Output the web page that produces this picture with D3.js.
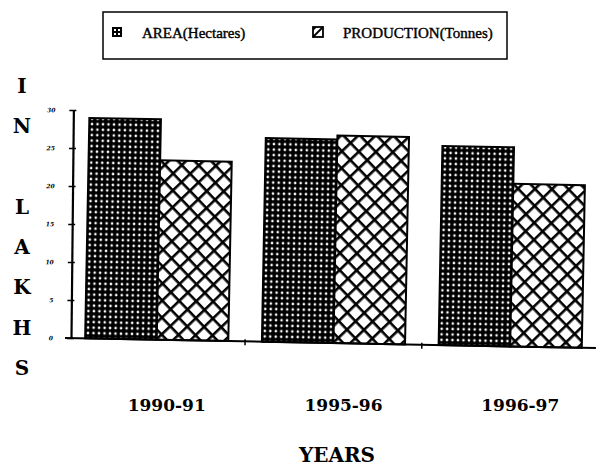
<!DOCTYPE html>
<html>
<head>
<meta charset="utf-8">
<script src="https://cdn.jsdelivr.net/npm/d3@7"></script>
<style>
  body { margin: 0; background: #fff; }
  svg { display: block; }
</style>
</head>
<body>
<div id="chart"></div>
<script>
// data
const years = ["1990-91", "1995-96", "1996-97"];
const series = ["AREA(Hectares)", "PRODUCTION(Tonnes)"];
const area = [29.0, 26.8, 26.2];
const production = [23.6, 27.3, 21.4];
const yTicks = [0, 5, 10, 15, 20, 25, 30];
const sideLetters = ["I", "N", "", "L", "A", "K", "H", "S"];

const width = 596, height = 468;
const serif = "'DejaVu Serif', serif";

const svg = d3.select("#chart").append("svg")
    .attr("width", width)
    .attr("height", height);

const defs = svg.append("defs");

// dotted fill for AREA
let dots = defs.append("pattern")
    .attr("id", "dots")
    .attr("patternUnits", "userSpaceOnUse")
    .attr("width", 5.5).attr("height", 5.5);
dots.append("rect").attr("width", 5.5).attr("height", 5.5).attr("fill", "#000");
dots.append("circle").attr("cx", 2.75).attr("cy", 2.75).attr("r", 1.3).attr("fill", "#fff");

// crosshatch for PRODUCTION
let hatch = defs.append("pattern")
    .attr("id", "hatch")
    .attr("patternUnits", "userSpaceOnUse")
    .attr("width", 12).attr("height", 12)
    .attr("patternTransform", "rotate(45)");
hatch.append("rect").attr("width", 12).attr("height", 12).attr("fill", "#fff");
hatch.append("rect").attr("width", 12).attr("height", 2.6).attr("fill", "#000");
hatch.append("rect").attr("width", 2.6).attr("height", 12).attr("fill", "#000");

const fills = ["url(#dots)", "url(#hatch)"];

// plot area (scan is slightly skewed, so the plot is tilted a little)
const origin = {x: 71, y: 338};
const plot = svg.append("g")
    .attr("transform", `rotate(1.1, ${origin.x}, ${origin.y})`);

const x0 = d3.scaleBand()
    .domain(years)
    .range([origin.x, width])
    .paddingInner(0.19)
    .paddingOuter(0.08);

const x1 = d3.scaleBand()
    .domain(series)
    .range([0, x0.bandwidth()]);

const y = d3.scaleLinear()
    .domain([0, 30])
    .range([origin.y, 110]);

const rows = years.map((yr, i) => ({year: yr, vals: [area[i], production[i]]}));

let groups = plot.selectAll("g.grp").data(rows).enter()
    .append("g").attr("class", "grp")
    .attr("transform", d => "translate(" + x0(d.year) + ",0)");

groups.selectAll("rect")
    .data(d => d.vals.map((v, k) => ({key: series[k], v: v, k: k})))
    .enter().append("rect")
    .attr("x", d => x1(d.key))
    .attr("y", d => y(d.v))
    .attr("width", x1.bandwidth())
    .attr("height", d => y(0) - y(d.v))
    .attr("fill", d => fills[d.k])
    .attr("stroke", "#000")
    .attr("stroke-width", 2);

// x axis baseline with small ticks between groups
plot.append("line")
    .attr("x1", origin.x - 6).attr("x2", width)
    .attr("y1", y(0)).attr("y2", y(0))
    .attr("stroke", "#000").attr("stroke-width", 2);
plot.selectAll("line.xt").data(years.slice(1)).enter()
    .append("line").attr("class", "xt")
    .attr("x1", d => x0(d) - x0.step() * x0.paddingInner() / 2)
    .attr("x2", d => x0(d) - x0.step() * x0.paddingInner() / 2)
    .attr("y1", y(0) - 2).attr("y2", y(0) + 4)
    .attr("stroke", "#000").attr("stroke-width", 1.5);

// y axis, tilted slightly less than the bars as in the scan
let yAxis = svg.append("g")
    .attr("transform", `rotate(0.6, ${origin.x}, ${origin.y}) translate(${origin.x},0)`)
    .call(d3.axisLeft(y).tickValues(yTicks).tickSize(4).tickSizeOuter(0).tickPadding(14));
yAxis.select(".domain").attr("stroke", "#000").attr("stroke-width", 2.2);
yAxis.selectAll(".tick line")
    .attr("stroke", "#000").attr("x1", -4).attr("x2", 3).attr("stroke-width", 1.6);
yAxis.selectAll(".tick text")
    .attr("fill", "#000")
    .style("font-family", serif)
    .style("font-size", "6px")
    .style("font-weight", "bold")
    .style("font-style", "italic");

// category labels
svg.selectAll("text.cat").data(years).enter()
    .append("text").attr("class", "cat")
    .attr("x", d => x0(d) + x0.bandwidth() / 2 + 10)
    .attr("y", 411)
    .attr("text-anchor", "middle")
    .style("font-family", serif)
    .style("font-weight", "bold")
    .style("font-size", "17px")
    .text(d => d);

svg.append("text")
    .attr("x", 337).attr("y", 462)
    .attr("text-anchor", "middle")
    .style("font-family", serif)
    .style("font-weight", "bold")
    .style("font-size", "20px")
    .text("YEARS");

// vertical "IN LAKHS"
const letterY = d3.scaleLinear().domain([0, sideLetters.length - 1]).range([93, 375]);
svg.selectAll("text.side").data(sideLetters).enter()
    .append("text").attr("class", "side")
    .attr("x", 22)
    .attr("y", (d, i) => letterY(i))
    .attr("text-anchor", "middle")
    .style("font-family", serif)
    .style("font-weight", "bold")
    .style("font-size", "20px")
    .text(d => d);

// legend
let legend = svg.append("g");
legend.append("rect")
    .attr("x", 103).attr("y", 12)
    .attr("width", 404).attr("height", 47)
    .attr("fill", "none").attr("stroke", "#000").attr("stroke-width", 1.5);

const legX = [112, 313];
let items = legend.selectAll("g.item").data(series).enter()
    .append("g").attr("class", "item")
    .attr("transform", (d, i) => "translate(" + legX[i] + ",27)");

items.filter((d, i) => i === 0).call(g => {
    g.append("rect").attr("width", 10).attr("height", 10).attr("fill", "#000");
    g.selectAll("rect.w").data([[2, 2], [6, 2], [2, 6], [6, 6]]).enter()
        .append("rect").attr("class", "w")
        .attr("x", d => d[0]).attr("y", d => d[1])
        .attr("width", 2).attr("height", 2).attr("fill", "#fff");
});
items.filter((d, i) => i === 1).call(g => {
    g.append("rect").attr("width", 10).attr("height", 10)
        .attr("fill", "#fff").attr("stroke", "#000").attr("stroke-width", 1.8);
    g.append("path").attr("d", "M0,10L10,0").attr("stroke", "#000").attr("stroke-width", 1.8);
    g.append("path").attr("d", "M0,0L4,0L0,4Z").attr("fill", "#000");
});
items.append("text")
    .attr("x", 30).attr("y", 11)
    .style("font-family", "'Liberation Serif', serif")
    .style("font-size", "15px")
    .style("stroke", "#000").style("stroke-width", 0.4)
    .text(d => d);
</script>
</body>
</html>
